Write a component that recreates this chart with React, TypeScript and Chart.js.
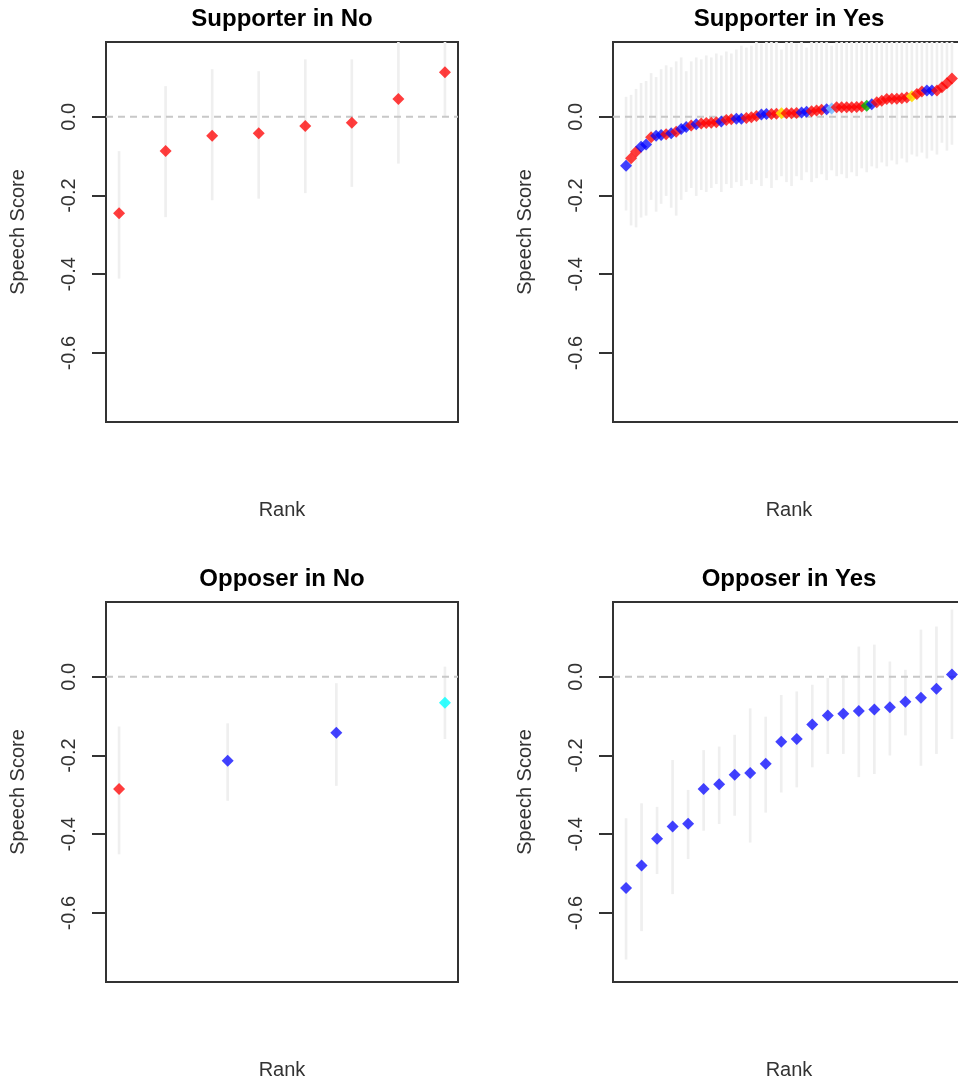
import React, { useEffect, useRef } from "react";
import { Chart, registerables } from "chart.js";

Chart.register(...registerables);

const FONT = '"Liberation Sans", Arial, Helvetica, sans-serif';

// Shared vertical axis
const yTickValues = [-0.6, -0.4, -0.2, 0.0];
const yMin = -0.775;
const yMax = 0.19;

// Party colour codes used by the point arrays
const PALETTE: Record<string, string> = {
  R: "rgba(255, 0, 0, 0.76)",
  B: "rgba(0, 0, 255, 0.74)",
  Y: "rgba(255, 215, 0, 0.9)",
  G: "rgba(0, 175, 0, 0.8)",
  C: "rgba(0, 255, 255, 0.8)",
  L: "rgba(120, 185, 255, 0.85)",
};

// Supporter in No
const supNoScore = [-0.245, -0.087, -0.048, -0.042, -0.023, -0.015, 0.045, 0.113];
const supNoLower = [-0.41, -0.254, -0.211, -0.207, -0.193, -0.177, -0.118, 0.001];
const supNoUpper = [-0.088, 0.077, 0.12, 0.115, 0.145, 0.145, 0.21, 0.23];
const supNoParty = ["R", "R", "R", "R", "R", "R", "R", "R"];

// Supporter in Yes
const supYesScore = [
  -0.124, -0.105, -0.089, -0.076, -0.07, -0.052, -0.048, -0.046, -0.044, -0.042,
  -0.038, -0.031, -0.026, -0.022, -0.019, -0.017, -0.016, -0.015, -0.014, -0.012,
  -0.008, -0.006, -0.005, -0.005, -0.003, -0.001, 0.002, 0.006, 0.007, 0.007,
  0.008, 0.009, 0.009, 0.009, 0.01, 0.011, 0.013, 0.014, 0.016, 0.018,
  0.019, 0.021, 0.024, 0.024, 0.024, 0.024, 0.025, 0.026, 0.028, 0.032,
  0.037, 0.041, 0.045, 0.046, 0.046, 0.047, 0.049, 0.052, 0.058, 0.064,
  0.067, 0.067, 0.067, 0.075, 0.085, 0.097,
];
const supYesLower = [
  -0.237, -0.275, -0.28, -0.255, -0.25, -0.21, -0.24, -0.22, -0.2, -0.23,
  -0.25, -0.21, -0.19, -0.18, -0.2, -0.185, -0.19, -0.18, -0.17, -0.19,
  -0.17, -0.18, -0.165, -0.175, -0.16, -0.17, -0.16, -0.175, -0.155, -0.18,
  -0.16, -0.15, -0.165, -0.175, -0.15, -0.16, -0.14, -0.165, -0.155, -0.145,
  -0.16, -0.135, -0.15, -0.145, -0.155, -0.14, -0.15, -0.13, -0.14, -0.125,
  -0.13, -0.115, -0.125, -0.11, -0.12, -0.105, -0.115, -0.095, -0.1, -0.09,
  -0.105, -0.085, -0.095, -0.065, -0.085, -0.07,
];
const supYesUpper = [
  0.05, 0.055, 0.07, 0.085, 0.09, 0.11, 0.1, 0.12, 0.13, 0.125,
  0.14, 0.15, 0.115, 0.14, 0.15, 0.145, 0.155, 0.15, 0.16, 0.155,
  0.165, 0.16, 0.17, 0.18, 0.175, 0.18, 0.19, 0.185, 0.2, 0.19,
  0.2, 0.17, 0.21, 0.2, 0.185, 0.2, 0.175, 0.21, 0.19, 0.2,
  0.22, 0.18, 0.21, 0.2, 0.22, 0.195, 0.21, 0.2, 0.22, 0.19,
  0.21, 0.22, 0.2, 0.215, 0.2, 0.22, 0.21, 0.2, 0.22, 0.21,
  0.2, 0.22, 0.21, 0.22, 0.23, 0.24,
];
const supYesParty = [
  "B", "R", "R", "B", "B", "R", "B", "B", "R", "B",
  "R", "B", "B", "R", "B", "R", "R", "R", "R", "B",
  "R", "R", "B", "B", "R", "R", "R", "B", "B", "R",
  "R", "Y", "R", "R", "R", "B", "B", "R", "R", "R",
  "B", "L", "R", "R", "R", "R", "R", "R", "G", "B",
  "R", "R", "R", "R", "R", "R", "R", "Y", "R", "R",
  "B", "B", "R", "R", "R", "R",
];

// Opposer in No
const oppNoScore = [-0.285, -0.213, -0.142, -0.066];
const oppNoLower = [-0.45, -0.314, -0.276, -0.157];
const oppNoUpper = [-0.127, -0.119, -0.017, 0.025];
const oppNoParty = ["R", "B", "B", "C"];

// Opposer in Yes
const oppYesScore = [
  -0.536, -0.479, -0.411, -0.38, -0.373, -0.285, -0.273, -0.249, -0.244, -0.221,
  -0.165, -0.158, -0.121, -0.098, -0.094, -0.087, -0.083, -0.077, -0.063, -0.053,
  -0.03, 0.006,
];
const oppYesLower = [
  -0.717, -0.645, -0.5, -0.551, -0.462, -0.39, -0.373, -0.352, -0.42, -0.344,
  -0.293, -0.28, -0.229, -0.195, -0.195, -0.254, -0.246, -0.199, -0.148, -0.225,
  -0.195, -0.157,
];
const oppYesUpper = [
  -0.36, -0.322, -0.331, -0.212, -0.288, -0.187, -0.178, -0.148, -0.081, -0.102,
  -0.047, -0.038, -0.021, -0.004, 0.004, 0.076, 0.081, 0.038, 0.017, 0.119,
  0.127, 0.17,
];
const oppYesParty = oppYesScore.map(() => "B");

const CANVAS_W = 479;
const CANVAS_H = 542;

// Main panel heading, centred over the plotting region
const panelTitle = {
  id: "panelTitle",
  afterDraw(chart: any, _args: any, opts: any) {
    const { ctx, chartArea } = chart;
    ctx.save();
    ctx.font = `bold 24px ${FONT}`;
    ctx.fillStyle = "#000";
    ctx.textAlign = "center";
    ctx.textBaseline = "middle";
    ctx.fillText(opts.text, (chartArea.left + chartArea.right) / 2, 19);
    ctx.restore();
  },
};

// Frame around the plotting region
const plotBox = {
  id: "plotBox",
  beforeDatasetsDraw(chart: any) {
    const { ctx, chartArea } = chart;
    ctx.save();
    ctx.strokeStyle = "#333";
    ctx.lineWidth = 2;
    ctx.strokeRect(
      chartArea.left,
      chartArea.top,
      chartArea.right - chartArea.left,
      chartArea.bottom - chartArea.top
    );
    ctx.restore();
  },
};

type PanelProps = {
  title: string;
  score: number[];
  lower: number[];
  upper: number[];
  party: string[];
  left: number;
  top: number;
};

function Panel({ title, score, lower, upper, party, left, top }: PanelProps) {
  const ref = useRef<HTMLCanvasElement>(null);

  useEffect(() => {
    const n = score.length;
    const pad = 0.04 * (n - 1);
    const xMin = 1 - pad;
    const xMax = n + pad;

    const chart = new Chart(ref.current as HTMLCanvasElement, {
      type: "scatter",
      data: {
        datasets: [
          {
            type: "scatter",
            data: score.map((v, i) => ({ x: i + 1, y: v })),
            backgroundColor: party.map((p) => PALETTE[p]),
            borderWidth: 0,
            pointStyle: "rectRot",
            pointRadius: 6,
            order: 0,
          } as any,
          {
            type: "line",
            data: [
              { x: xMin, y: 0 },
              { x: xMax, y: 0 },
            ],
            borderColor: "#c8c8c8",
            borderWidth: 2,
            borderDash: [7, 5],
            pointRadius: 0,
            order: 1,
          } as any,
          {
            type: "bar",
            data: score.map((_, i) => ({ x: i + 1, y: [lower[i], upper[i]] })),
            backgroundColor: "#efefef",
            barThickness: 2,
            grouped: false,
            clip: 0,
            order: 2,
          } as any,
        ],
      },
      options: {
        responsive: false,
        animation: false,
        events: [],
        devicePixelRatio: 1,
        layout: {
          padding: { left: 0, right: CANVAS_W - 458, top: 42, bottom: 0 },
          autoPadding: false,
        },
        plugins: {
          legend: { display: false },
          tooltip: { enabled: false },
          title: { display: false },
          panelTitle: { text: title },
        } as any,
        scales: {
          x: {
            type: "linear",
            min: xMin,
            max: xMax,
            offset: false,
            ticks: { display: false },
            grid: { display: false, offset: false },
            border: { display: false },
            title: {
              display: true,
              text: "Rank",
              color: "#333",
              font: { family: FONT, size: 20 },
              padding: { top: 0, bottom: 20 },
            },
            afterFit: (s: any) => {
              s.height = CANVAS_H - 422;
            },
          },
          y: {
            type: "linear",
            min: yMin,
            max: yMax,
            afterBuildTicks: (s: any) => {
              s.ticks = yTickValues.map((v) => ({ value: v }));
            },
            ticks: {
              minRotation: 90,
              maxRotation: 90,
              crossAlign: "center",
              padding: 5,
              color: "#333",
              font: { family: FONT, size: 20 },
              callback: (v: any) => Number(v).toFixed(1),
            },
            grid: {
              display: true,
              drawOnChartArea: false,
              drawTicks: true,
              tickLength: 14,
              color: "#333",
              lineWidth: 2,
            },
            border: { display: false },
            title: {
              display: true,
              text: "Speech Score",
              color: "#333",
              font: { family: FONT, size: 20 },
              padding: { top: 6, bottom: 0 },
            },
            afterFit: (s: any) => {
              s.width = 106;
            },
          },
        } as any,
      },
      plugins: [panelTitle, plotBox],
    });

    return () => chart.destroy();
  }, [title, score, lower, upper, party]);

  return (
    <canvas
      ref={ref}
      width={CANVAS_W}
      height={CANVAS_H}
      style={{
        position: "absolute",
        left,
        top,
        width: CANVAS_W,
        height: CANVAS_H,
      }}
    />
  );
}

export default function App() {
  return (
    <div
      style={{
        position: "fixed",
        left: 0,
        top: 0,
        width: 958,
        height: 1084,
        overflow: "hidden",
        background: "#fff",
      }}
    >
      <Panel
        title="Supporter in No"
        score={supNoScore}
        lower={supNoLower}
        upper={supNoUpper}
        party={supNoParty}
        left={0}
        top={0}
      />
      <Panel
        title="Supporter in Yes"
        score={supYesScore}
        lower={supYesLower}
        upper={supYesUpper}
        party={supYesParty}
        left={507}
        top={0}
      />
      <Panel
        title="Opposer in No"
        score={oppNoScore}
        lower={oppNoLower}
        upper={oppNoUpper}
        party={oppNoParty}
        left={0}
        top={560}
      />
      <Panel
        title="Opposer in Yes"
        score={oppYesScore}
        lower={oppYesLower}
        upper={oppYesUpper}
        party={oppYesParty}
        left={507}
        top={560}
      />
    </div>
  );
}
